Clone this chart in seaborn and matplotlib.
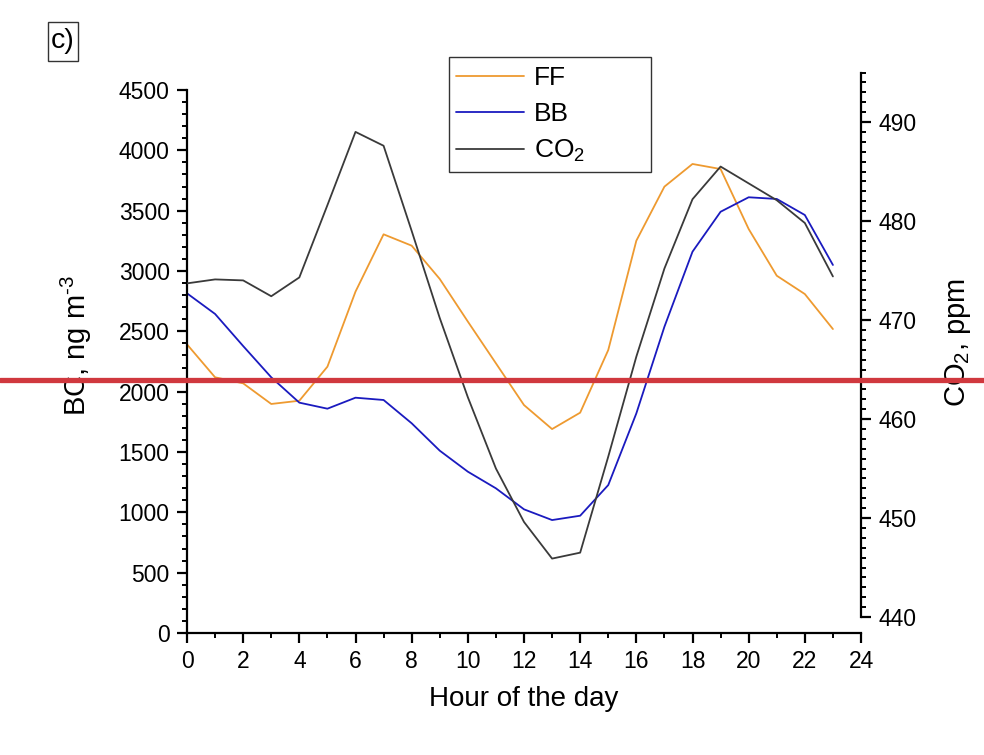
import numpy as np
import pandas as pd
import matplotlib
matplotlib.use("Agg")
import matplotlib.pyplot as plt
import seaborn as sns
from matplotlib.ticker import MultipleLocator, FixedLocator
from matplotlib.patches import Rectangle
from matplotlib.lines import Line2D

# ---- data ----
hours = list(range(24))
ff = [2392, 2119, 2069, 1898, 1925, 2207, 2829, 3304, 3210, 2934, 2581, 2235,
      1889, 1690, 1826, 2345, 3251, 3699, 3887, 3845, 3348, 2961, 2809, 2519]
bb = [2815, 2644, 2378, 2119, 1909, 1859, 1950, 1931, 1738, 1511, 1337, 1199,
      1025, 936, 972, 1226, 1820, 2538, 3160, 3491, 3611, 3597, 3464, 3050]
co2 = [473.7, 474.1, 474.0, 472.4, 474.3, 481.6, 489.0, 487.6, 479.0, 470.2, 462.2, 455.0,
       449.6, 445.9, 446.5, 456.2, 466.3, 475.2, 482.2, 485.5, 483.8, 482.1, 479.8, 474.4]
series_labels = ["FF", "BB", "CO$_2$"]
red_line_co2 = 463.9

df = pd.DataFrame({"hour": hours, "FF": ff, "BB": bb, "CO2": co2})

sns.set_theme(style="ticks")
plt.rcParams["font.family"] = ["Liberation Sans", "DejaVu Sans"]
plt.rcParams["mathtext.fontset"] = "custom"
plt.rcParams["mathtext.rm"] = "Liberation Sans"
plt.rcParams["mathtext.it"] = "Liberation Sans:italic"
plt.rcParams["mathtext.bf"] = "Liberation Sans:bold"

W, H = 984, 755
fig = plt.figure(figsize=(W / 100, H / 100), dpi=100)
fig.patch.set_facecolor("white")

ax = fig.add_axes([187 / W, (H - 633) / H, (861 - 187) / W, (633 - 72) / H])
ax.set_facecolor("none")

c_ff = "#EE9A30"
c_bb = "#1A1ABF"
c_co2 = "#3A3A3A"

sns.lineplot(data=df, x="hour", y="FF", ax=ax, color=c_ff, lw=1.3)
sns.lineplot(data=df, x="hour", y="BB", ax=ax, color=c_bb, lw=1.3)

ax.set_xlim(0, 24)
ax.set_ylim(0, 4500 + 18 * 4500 / 543)
ax.spines["top"].set_visible(False)
ax.spines["right"].set_visible(False)
ax.spines["left"].set_bounds(0, 4500)
for s in ["left", "bottom"]:
    ax.spines[s].set_linewidth(1.6)
    ax.spines[s].set_color("black")

ax.xaxis.set_major_locator(MultipleLocator(2))
ax.xaxis.set_minor_locator(MultipleLocator(1))
ax.yaxis.set_major_locator(FixedLocator(np.arange(0, 4501, 500)))
ax.yaxis.set_minor_locator(FixedLocator(np.arange(0, 4501, 100)))
ax.tick_params(axis="both", which="major", direction="out", length=7.5, width=1.6,
               labelsize=16.5, colors="black", pad=5)
ax.tick_params(axis="both", which="minor", direction="out", length=3.8, width=1.4, colors="black")

ax.set_xlabel("Hour of the day", fontsize=20, color="black")
ax.set_ylabel("BC, ng m$^{\u20103}$", fontsize=21, color="black")
ax.xaxis.set_label_coords(0.5, (633 - 686) / 561)
ax.yaxis.set_label_coords((94 - 187) / 674, (633 - 346) / 561)

ax2 = ax.twinx()
ax2.set_facecolor("none")
sns.lineplot(data=df, x="hour", y="CO2", ax=ax2, color=c_co2, lw=1.3)
ax2.set_ylim(440 - 16 / 9.9, 440 + 545 / 9.9)
ax2.set_xlim(0, 24)
for s in ["top", "left", "bottom"]:
    ax2.spines[s].set_visible(False)
ax2.spines["right"].set_bounds(440, 495)
ax2.spines["right"].set_linewidth(1.6)
ax2.spines["right"].set_color("black")
ax2.yaxis.set_major_locator(FixedLocator(np.arange(440, 491, 10)))
ax2.yaxis.set_minor_locator(FixedLocator(np.arange(440, 496, 1)))
ax2.tick_params(axis="y", which="major", direction="out", length=7.5, width=1.6,
                labelsize=16.5, colors="black", pad=5)
ax2.tick_params(axis="y", which="minor", direction="out", length=3.8, width=1.4, colors="black")
ax2.set_ylabel("CO$_2$, ppm", fontsize=21, color="black")
ax2.yaxis.set_label_coords((943 - 187) / 674, (633 - 342.5) / 561)

# red horizontal line across the whole figure
ax2.axhline(red_line_co2, xmin=-187 / 674, xmax=(984 - 187) / 674, color="#D0383E",
            lw=3.8, clip_on=False, zorder=10)

# legend
handles = [Line2D([], [], color=c, lw=1.3) for c in (c_ff, c_bb, c_co2)]
leg = fig.legend(handles, series_labels, loc="upper left",
                 bbox_to_anchor=(451 / W, 1 - 61 / H), bbox_transform=fig.transFigure,
                 frameon=False, fontsize=19, handlelength=2.55, handletextpad=0.4,
                 labelspacing=0.45, borderpad=0.2, borderaxespad=0)
for t in leg.get_texts():
    t.set_color("black")
fig.patches.append(Rectangle((449 / W, 1 - 172 / H), (651 - 449) / W, (172 - 57) / H,
                             transform=fig.transFigure, fill=False, edgecolor="#333333",
                             lw=1.0, zorder=5))

# panel label
fig.text(63 / W, 1 - 41 / H, "c)", fontsize=20.5, ha="center", va="center", color="black")
fig.patches.append(Rectangle((48 / W, 1 - 61 / H), 30 / W, 39 / H,
                             transform=fig.transFigure, fill=False, edgecolor="#333333",
                             lw=1.0, zorder=5))

fig.savefig("out.png", dpi=100, facecolor="white")
